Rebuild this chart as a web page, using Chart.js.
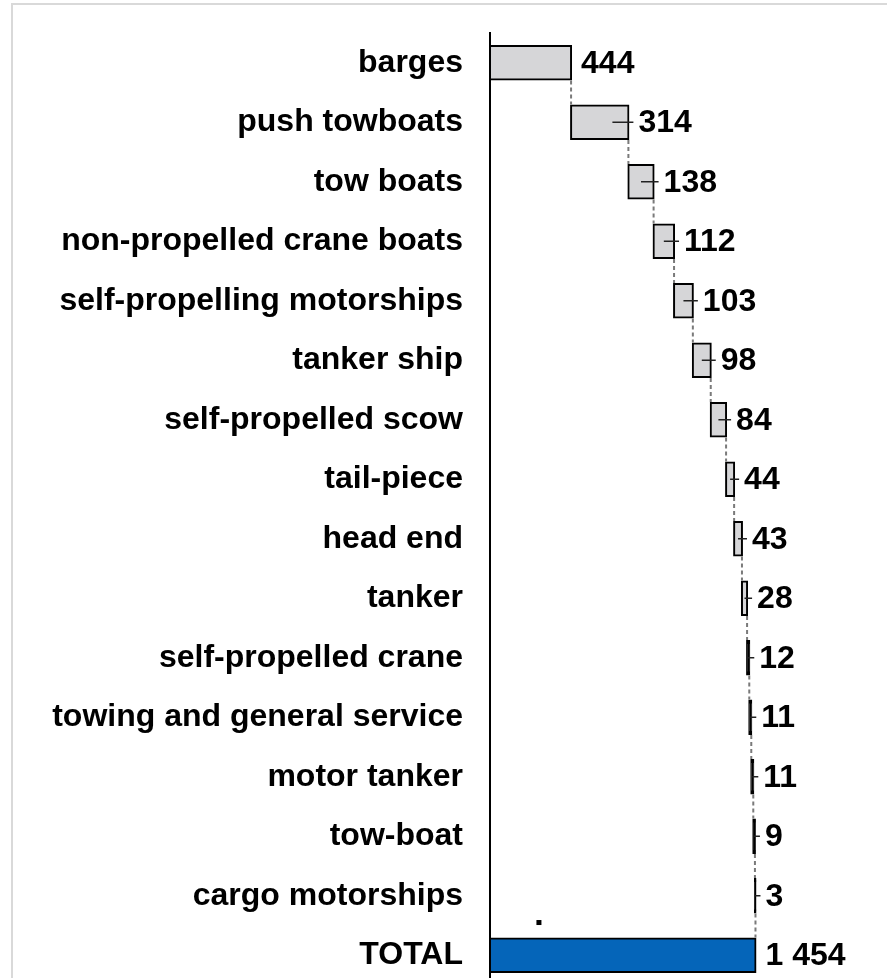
<!DOCTYPE html>
<html lang="en">
<head>
    <meta charset="UTF-8">
    <title>Fleet waterfall</title>
    <script src="https://cdn.jsdelivr.net/npm/chart.js"></script>
    <style>
        html, body { margin: 0; padding: 0; background: #fff; overflow: hidden; }
        .frame { position: absolute; left: 11px; top: 3px; width: 900px; height: 1000px; border: 2px solid #d9d9d9; }
        .chart-box { position: absolute; left: 0; top: 0; }
    </style>
</head>
<body>
    <div class="frame"></div>
    <div class="chart-box"><canvas id="fleetChart" width="887" height="1000"></canvas></div>

    <script>
        var categories = ['barges', 'push towboats', 'tow boats', 'non-propelled crane boats',
            'self-propelling motorships', 'tanker ship', 'self-propelled scow', 'tail-piece',
            'head end', 'tanker', 'self-propelled crane', 'towing and general service',
            'motor tanker', 'tow-boat', 'cargo motorships'];
        var counts = [444, 314, 138, 112, 103, 98, 84, 44, 43, 28, 12, 11, 11, 9, 3];
        var totalLabel = 'TOTAL';
        var totalCount = 1454;
        // small stray marker seen left of the total bar
        var strayMark = { value: 268, row: 14.45 };

        var labels = categories.concat([totalLabel]);
        var ranges = [];
        var running = 0;
        for (var i = 0; i < counts.length; i++) {
            ranges.push([running, running + counts[i]]);
            running += counts[i];
        }
        ranges.push([0, totalCount]);
        var values = counts.concat([totalCount]);

        var labelFont = '"Liberation Sans", Arial, sans-serif';

        function fmt(v) {
            return String(v).replace(/\B(?=(\d{3})+(?!\d))/g, ' ');
        }

        // very thin steps look solid black because the outline covers them
        function barFill(c) {
            if (c.dataIndex === labels.length - 1) return '#0565b9';
            var xs = c.chart.scales.x;
            var r = ranges[c.dataIndex];
            var w = Math.abs(xs.getPixelForValue(r[1]) - xs.getPixelForValue(r[0]));
            return w < 3 ? '#000' : '#d6d6d8';
        }

        var waterfallExtras = {
            id: 'waterfallExtras',
            afterDatasetsDraw: function (chart) {
                var ctx = chart.ctx;
                var xs = chart.scales.x, ys = chart.scales.y;
                var bars = chart.getDatasetMeta(0).data;
                ctx.save();

                // dashed connectors
                ctx.strokeStyle = '#7a7a7a';
                ctx.lineWidth = 2;
                ctx.setLineDash([4, 3]);
                for (var i = 0; i < bars.length - 1; i++) {
                    var a = bars[i].getProps(['y', 'height'], true);
                    var b = bars[i + 1].getProps(['y', 'height'], true);
                    var px = xs.getPixelForValue(ranges[i][1]);
                    ctx.beginPath();
                    ctx.moveTo(px, a.y + a.height / 2 + 1);
                    ctx.lineTo(px, b.y - b.height / 2 - 1);
                    ctx.stroke();
                }
                ctx.setLineDash([]);

                // short marks at the end of each step
                ctx.strokeStyle = '#222';
                ctx.lineWidth = 1.5;
                for (var j = 1; j < counts.length; j++) {
                    var p = bars[j].getProps(['y'], true);
                    var x0 = xs.getPixelForValue(ranges[j][0]);
                    var x1 = xs.getPixelForValue(ranges[j][1]);
                    var inside = Math.min(16, (x1 - x0) / 2);
                    ctx.beginPath();
                    ctx.moveTo(x1 - inside, p.y);
                    ctx.lineTo(x1 + 5, p.y);
                    ctx.stroke();
                }

                // value labels
                ctx.fillStyle = '#000';
                ctx.font = 'bold 32px ' + labelFont;
                ctx.textAlign = 'left';
                ctx.textBaseline = 'middle';
                for (var k = 0; k < bars.length; k++) {
                    var q = bars[k].getProps(['y'], true);
                    ctx.fillText(fmt(values[k]), xs.getPixelForValue(ranges[k][1]) + 10, q.y + 1);
                }

                // stray marker
                ctx.fillRect(xs.getPixelForValue(strayMark.value) - 2.5, ys.getPixelForValue(strayMark.row) - 2.5, 5, 5);
                ctx.restore();
            }
        };

        var ctx = document.getElementById('fleetChart').getContext('2d');
        var fleetChart = new Chart(ctx, {
            type: 'bar',
            data: {
                labels: labels,
                datasets: [{
                    data: ranges,
                    backgroundColor: barFill,
                    borderColor: '#000',
                    borderWidth: 2,
                    borderSkipped: false,
                    inflateAmount: 1,
                    barPercentage: 0.56,
                    categoryPercentage: 1
                }]
            },
            options: {
                indexAxis: 'y',
                responsive: false,
                animation: false,
                layout: { padding: { top: 33, bottom: 15, left: 0, right: 7 } },
                plugins: { legend: { display: false }, tooltip: { enabled: false } },
                scales: {
                    x: { display: false, min: 0, max: 2136 },
                    y: {
                        afterFit: function (scale) {
                            scale.width = 490;
                            scale.paddingTop = 0;
                            scale.paddingBottom = 0;
                        },
                        grid: { display: false, drawTicks: false },
                        border: { display: true, color: '#000', width: 2 },
                        ticks: {
                            padding: 27,
                            color: '#000',
                            font: { family: labelFont, size: 32, weight: 'bold' }
                        }
                    }
                }
            },
            plugins: [waterfallExtras]
        });
    </script>
</body>
</html>
